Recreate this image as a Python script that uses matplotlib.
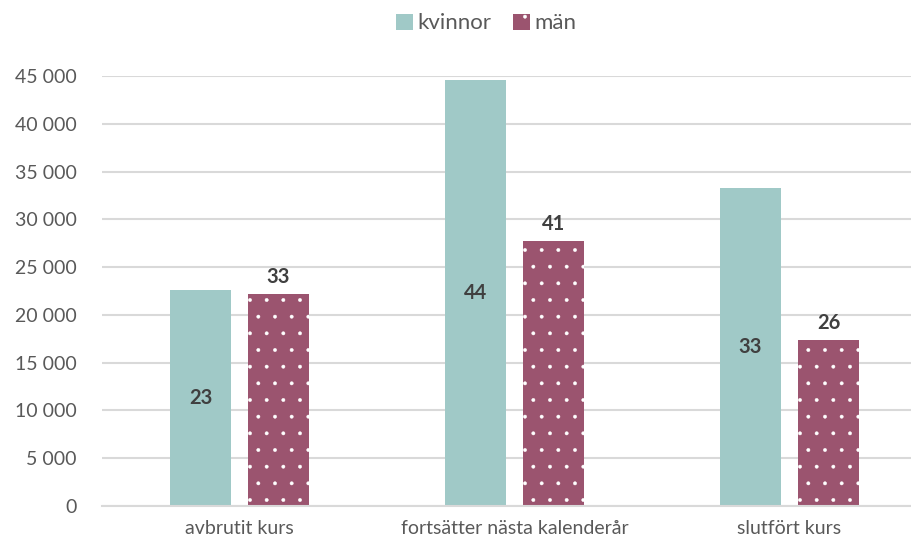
import matplotlib
matplotlib.use("Agg")
from matplotlib import pyplot as plt
from matplotlib.ticker import FuncFormatter, MultipleLocator
import numpy as np

categories = ["avbrutit kurs", "fortsätter nästa kalenderår", "slutfört kurs"]
kvinnor = [22600, 44580, 33280]
man = [22190, 27730, 17370]
kvinnor_pct = [23, 44, 33]
man_pct = [33, 41, 26]

plt.rcParams['font.family'] = ['Lato', 'DejaVu Sans']
plt.rcParams['hatch.linewidth'] = 0.3

C_KV = "#a0c9c7"
C_MAN = "#9b546f"
GRAY = "#595959"

fig = plt.figure(figsize=(9.12, 5.42), dpi=100)
ax = fig.add_axes([102 / 912, 36 / 542, 825 / 912, 430 / 542])

x = np.arange(len(categories))
w = 0.222
off = 0.142
b1 = ax.bar(x - off, kvinnor, w, color=C_KV, label="kvinnor", zorder=2)
b2 = ax.bar(x + off, man, w, color=C_MAN, edgecolor="white", linewidth=0,
            hatch=".", label="män", zorder=2)

for rect, p in zip(b1, kvinnor_pct):
    ax.text(rect.get_x() + rect.get_width() / 2, rect.get_height() / 2, str(p),
            ha="center", va="center", fontsize=14.5, fontweight="bold", color="#404040")
for rect, p in zip(b2, man_pct):
    ax.text(rect.get_x() + rect.get_width() / 2, rect.get_height() + 700, str(p),
            ha="center", va="bottom", fontsize=14.5, fontweight="bold", color="#404040")

ax.set_xlim(-0.5, 2.5)
ax.set_ylim(0, 45000)
ax.yaxis.set_major_locator(MultipleLocator(5000))
ax.yaxis.set_major_formatter(FuncFormatter(lambda v, p: f"{int(v):,}".replace(",", " ")))
ax.set_xticks(x)
ax.set_xticklabels(categories)
ax.tick_params(axis="both", length=0, labelsize=14, labelcolor=GRAY)
ax.tick_params(axis="y", pad=18)
ax.tick_params(axis="x", pad=10)

ax.yaxis.grid(True, color="#d9d9d9", linewidth=1.5, zorder=0)
ax.set_axisbelow(True)
for s in ["top", "right", "left"]:
    ax.spines[s].set_visible(False)
ax.spines["bottom"].set_color("#d9d9d9")
ax.spines["bottom"].set_linewidth(1.5)
ax.spines["bottom"].set_zorder(3)

fig.legend(loc="upper center", bbox_to_anchor=(0.533, 1.012), ncol=2, frameon=False,
           fontsize=16, handlelength=0.75, handleheight=0.75, handletextpad=0.2,
           columnspacing=1.0, labelcolor=GRAY)

fig.savefig("out.png", dpi=100)
